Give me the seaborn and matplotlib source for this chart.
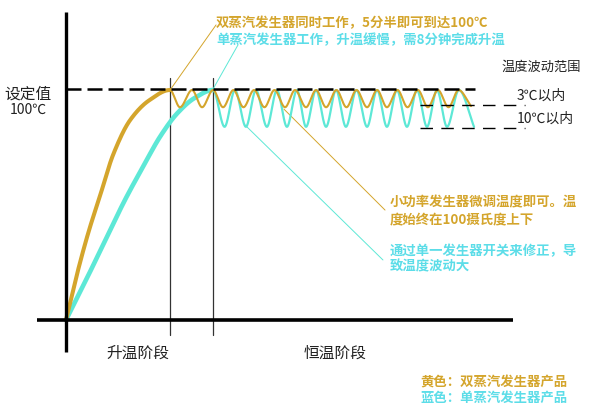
import numpy as np
import matplotlib
matplotlib.use("Agg")
import matplotlib.pyplot as plt
import seaborn as sns

sns.set_theme(style="white")
plt.rcParams['font.family'] = ['Noto Sans CJK SC', 'DejaVu Sans']

# ---------------- data (time in minutes, temperature in °C) ----------------
setpoint = 100.0

gold_time = [0.0, 0.6, 1.2, 1.8, 2.5, 3.4, 4.4, 5.50,
             6.03, 6.67, 7.20, 7.78, 8.31, 8.86, 9.39, 9.95, 10.50, 11.03,
             11.59, 12.12, 12.70, 13.23, 13.76, 14.31, 14.84, 15.37, 15.93,
             16.46, 16.98, 17.54, 18.07, 18.62, 19.15, 19.68, 20.24, 20.77, 21.43]
gold_temp = [0.0, 20.5, 38.5, 54.0, 72.0, 87.0, 95.5, 100.0,
             92.5, 100.0, 92.5, 100.0, 92.5, 100.0, 92.5, 100.0, 92.5, 100.0,
             92.5, 100.0, 92.5, 100.0, 92.5, 100.0, 92.5, 100.0, 92.5,
             100.0, 92.5, 100.0, 92.5, 100.0, 92.5, 100.0, 92.5, 100.0, 93.0]
gold_reach = 5.50

cyan_time = [0.0, 1.06, 2.1, 3.12, 4.1, 5.0, 5.9, 6.8, 7.78,
             8.39, 8.94, 9.52, 10.05, 10.63, 11.16, 11.69, 12.22, 12.70,
             13.23, 13.76, 14.29, 14.81, 15.37, 15.93, 16.46, 16.98, 17.51,
             18.04, 18.57, 19.10, 19.63, 20.16, 20.79, 21.59]
cyan_temp = [0.0, 17.4, 35.0, 52.2, 67.0, 80.0, 90.0, 96.5, 100.0,
             84.0, 100.0, 84.0, 100.0, 84.0, 100.0, 84.0, 100.0, 84.0,
             100.0, 84.0, 100.0, 84.0, 100.0, 84.0, 100.0, 84.0, 100.0,
             84.0, 100.0, 84.0, 100.0, 84.0, 100.0, 84.0]
cyan_reach = 7.78

band_3c = 93.5
band_10c = 83.5

title_gold = "双蒸汽发生器同时工作，5分半即可到达100℃"
title_cyan = "单蒸汽发生器工作，升温缓慢，需8分钟完成升温"
note_gold = "小功率发生器微调温度即可。温\n度始终在100摄氏度上下"
note_cyan = "通过单一发生器开关来修正，导\n致温度波动大"
legend_gold = "黄色：双蒸汽发生器产品"
legend_cyan = "蓝色：单蒸汽发生器产品"
phase_labels = ["升温阶段", "恒温阶段"]
setpoint_label = ["设定值", "100℃"]
band_title = "温度波动范围"
band_labels = ["3℃以内", "10℃以内"]

GOLD = "#D4A52C"
CYAN = "#5DE8D6"
CYAN_TXT = "#5CDDE8"


def smooth(xk, yk, n=30):
    """Monotone cubic (PCHIP) rendering through the read key points."""
    xk = np.asarray(xk, float)
    yk = np.asarray(yk, float)
    h = np.diff(xk)
    d = np.diff(yk) / h
    m = np.zeros_like(xk)
    m[0] = d[0]
    m[-1] = d[-1]
    for k in range(1, len(xk) - 1):
        if d[k - 1] * d[k] <= 0:
            m[k] = 0.0
        else:
            w1 = 2 * h[k] + h[k - 1]
            w2 = h[k] + 2 * h[k - 1]
            m[k] = (w1 + w2) / (w1 / d[k - 1] + w2 / d[k])
    xs, ys = [], []
    for k in range(len(xk) - 1):
        t = np.linspace(0, 1, n, endpoint=(k == len(xk) - 2))
        h00 = 2 * t**3 - 3 * t**2 + 1
        h10 = t**3 - 2 * t**2 + t
        h01 = -2 * t**3 + 3 * t**2
        h11 = t**3 - t**2
        xs.append(xk[k] + t * h[k])
        ys.append(h00 * yk[k] + h10 * h[k] * m[k] + h01 * yk[k + 1] + h11 * h[k] * m[k + 1])
    return np.concatenate(xs), np.concatenate(ys)


fig = plt.figure(figsize=(6.0, 4.12), dpi=100)
ax = fig.add_axes([0, 0, 1, 1])
ax.set_xlim(-3.492, 28.254)
ax.set_ylim(-40.0, 139.13)
ax.axis("off")

# axes lines
ax.plot([-1.53, 23.65], [0, 0], color="black", lw=2.6, solid_capstyle="butt", zorder=5)
ax.plot([0, 0], [-13.9, 133.9], color="black", lw=2.4, solid_capstyle="butt", zorder=5)

# stage separators
for xv in (gold_reach, cyan_reach):
    ax.plot([xv, xv], [-6.5, 105.2], color="#333333", lw=0.9, zorder=2)

# setpoint dashed line
ax.plot([0, 21.64], [setpoint + 0.4, setpoint + 0.4], color="black", lw=1.8,
        linestyle=(0, (6, 2.4)), zorder=4)
# fluctuation band lines
ax.plot([18.73, 24.29], [band_3c, band_3c], color="black", lw=1.0,
        linestyle=(0, (9, 6)), zorder=4)
ax.plot([18.73, 24.29], [band_10c, band_10c], color="black", lw=1.0,
        linestyle=(0, (9, 6)), zorder=4)

# curves
cx, cy = smooth(cyan_time, cyan_temp)
gx, gy = smooth(gold_time, gold_temp)
rise_c = cx <= cyan_reach
rise_g = gx <= gold_reach
sns.lineplot(x=cx[~rise_c], y=cy[~rise_c], ax=ax, color=CYAN, lw=1.6,
             sort=False, estimator=None, zorder=3)
sns.lineplot(x=cx[rise_c], y=cy[rise_c], ax=ax, color=CYAN, lw=3.3,
             sort=False, estimator=None, zorder=3)
sns.lineplot(x=gx[~rise_g], y=gy[~rise_g], ax=ax, color=GOLD, lw=1.5,
             sort=False, estimator=None, zorder=3.5)
sns.lineplot(x=gx[rise_g], y=gy[rise_g], ax=ax, color=GOLD, lw=2.9,
             sort=False, estimator=None, zorder=3.5)

# leader lines
ax.plot([5.55, 7.94], [100.5, 128.3], color=GOLD, lw=0.7, zorder=2)
ax.plot([7.78, 9.10], [100.4, 119.6], color=CYAN, lw=0.7, zorder=2)
ax.plot([11.53, 16.88], [91.7, 47.8], color=GOLD, lw=0.7, zorder=2)
ax.plot([9.47, 16.77], [84.8, 26.1], color=CYAN, lw=0.7, zorder=2)

# texts
fs = 9.6
ax.text(7.94, 129.1, title_gold, color=GOLD, fontsize=fs, fontweight="bold",
        ha="left", va="center")
ax.text(7.94, 121.7, title_cyan, color=CYAN_TXT, fontsize=fs, fontweight="bold",
        ha="left", va="center")
ax.text(17.14, 47.4, note_gold, color=GOLD, fontsize=fs, fontweight="bold",
        ha="left", va="center", linespacing=1.25)
ax.text(17.14, 26.6, note_cyan, color=CYAN_TXT, fontsize=fs, fontweight="bold",
        ha="left", va="center", linespacing=1.15)
ax.text(18.73, -27.0, legend_gold, color=GOLD, fontsize=fs, fontweight="bold",
        ha="left", va="center")
ax.text(18.73, -33.9, legend_cyan, color=CYAN_TXT, fontsize=fs, fontweight="bold",
        ha="left", va="center")

ax.text(3.81, -14.3, phase_labels[0], color="#222222", fontsize=11.3,
        ha="center", va="center")
ax.text(14.23, -14.3, phase_labels[1], color="#222222", fontsize=11.3,
        ha="center", va="center")
ax.text(-2.01, 98.3, setpoint_label[0], color="#222222", fontsize=11.3,
        ha="center", va="center")
ax.text(-2.01, 91.3, setpoint_label[1], color="#222222", fontsize=10,
        fontweight="medium", ha="center", va="center")
ax.text(25.13, 110.0, band_title, color="#222222", fontsize=9.5,
        ha="center", va="center")
ax.text(23.86, 97.4, band_labels[0], color="#222222", fontsize=10,
        ha="left", va="center")
ax.text(23.86, 87.4, band_labels[1], color="#222222", fontsize=10,
        ha="left", va="center")

fig.savefig("out.png", dpi=100, facecolor="white")
